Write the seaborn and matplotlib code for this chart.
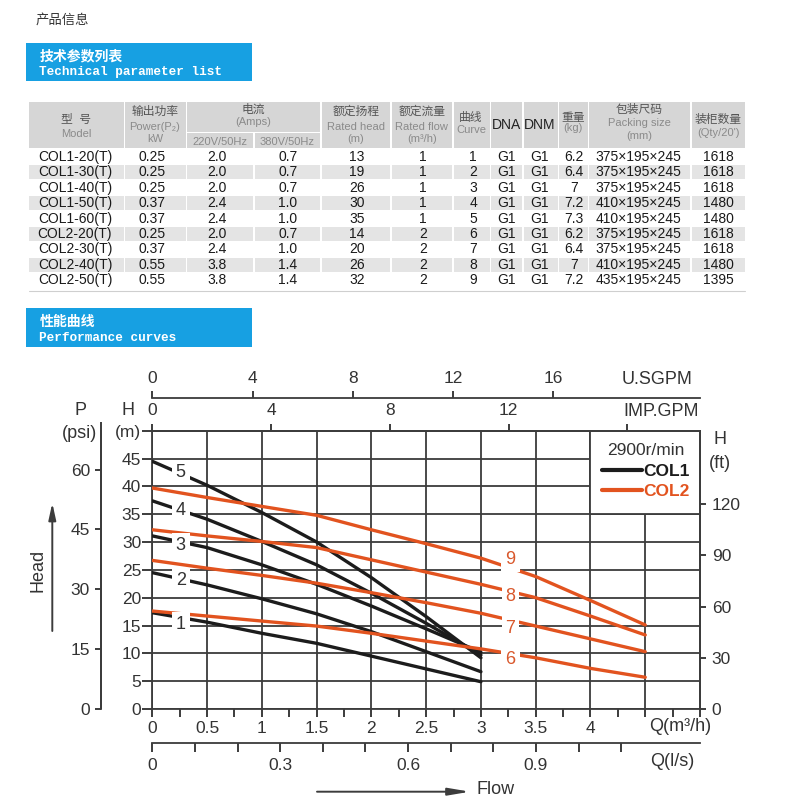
import numpy as np
import pandas as pd
import matplotlib
matplotlib.use("Agg")
import matplotlib.pyplot as plt
from matplotlib.patches import Rectangle
from matplotlib.lines import Line2D
import seaborn as sns

sns.set_style("white")
plt.rcParams["font.family"] = ["Liberation Sans", "Noto Sans CJK SC", "DejaVu Sans"]

# ---- technical parameter table ----
models = ["COL1-20(T)", "COL1-30(T)", "COL1-40(T)", "COL1-50(T)", "COL1-60(T)",
          "COL2-20(T)", "COL2-30(T)", "COL2-40(T)", "COL2-50(T)"]
power_kw = ["0.25", "0.25", "0.25", "0.37", "0.37", "0.25", "0.37", "0.55", "0.55"]
amps_220 = ["2.0", "2.0", "2.0", "2.4", "2.4", "2.0", "2.4", "3.8", "3.8"]
amps_380 = ["0.7", "0.7", "0.7", "1.0", "1.0", "0.7", "1.0", "1.4", "1.4"]
rated_head = ["13", "19", "26", "30", "35", "14", "20", "26", "32"]
rated_flow = ["1", "1", "1", "1", "1", "2", "2", "2", "2"]
curve_no = ["1", "2", "3", "4", "5", "6", "7", "8", "9"]
dna = ["G1"] * 9
dnm = ["G1"] * 9
weight_kg = ["6.2", "6.4", "7", "7.2", "7.3", "6.2", "6.4", "7", "7.2"]
packing = ["375×195×245", "375×195×245", "375×195×245", "410×195×245", "410×195×245",
           "375×195×245", "375×195×245", "410×195×245", "435×195×245"]
qty_20ft = ["1618", "1618", "1618", "1480", "1480", "1618", "1618", "1480", "1395"]

# ---- performance curves (Q in m3/h, H in m) ----
q_col1 = [0, 0.5, 1, 1.5, 2, 2.5, 3]
h_curve1 = [17.3, 15.6, 13.6, 11.8, 9.5, 7.2, 4.9]
h_curve2 = [24.5, 22.3, 19.8, 17.1, 13.9, 10.3, 6.7]
h_curve3 = [31.1, 29.0, 25.9, 22.4, 18.5, 14.4, 10.2]
h_curve4 = [37.4, 34.1, 30.1, 25.9, 20.8, 15.4, 9.7]
h_curve5 = [44.5, 40.2, 35.3, 30.0, 23.6, 16.6, 9.2]
q_col2 = [0, 0.5, 1, 1.5, 2, 2.5, 3, 3.5, 4, 4.5]
h_curve6 = [17.6, 16.7, 15.8, 14.9, 13.6, 12.2, 10.8, 9.2, 7.3, 5.7]
h_curve7 = [26.7, 25.3, 24.0, 22.6, 20.9, 19.1, 17.2, 14.9, 12.6, 10.3]
h_curve8 = [32.2, 31.1, 30.1, 29.0, 26.8, 24.6, 22.4, 20.0, 16.7, 13.3]
h_curve9 = [39.7, 38.0, 36.4, 34.8, 32.2, 29.7, 27.1, 23.8, 19.5, 15.1]

# unit scales as printed on the chart
PSI_PER_M = 1.395
FT_PER_M = 3.26
IMP_PER_M3H = 3.69
US_PER_M3H = 4.37
LPS_PER_M3H = 0.257

BLUE = "#17a0e2"
BLACK = "#1c1c1c"
ORANGE = "#e2531f"
LABEL_OR = "#d9582c"
GRID = "#3c3c3c"
TXT = "#333333"

W = H = 800


def rect(l, t, r, b):
    return [l / W, 1 - b / H, (r - l) / W, (b - t) / H]


fig = plt.figure(figsize=(8, 8), dpi=100)
page = fig.add_axes([0, 0, 1, 1], zorder=0)
page.set_xlim(0, W)
page.set_ylim(H, 0)
page.axis("off")

# heading + banners
page.text(36, 20.7, "产品信息", fontsize=9.6, color=TXT, va="center")
for top, cn, en in [(42.7, "技术参数列表", "Technical parameter list"),
                    (308.3, "性能曲线", "Performance curves")]:
    page.add_patch(Rectangle((26, top), 226.3, 38.5, fc=BLUE, ec="none"))
    page.text(39.3, top + 13.3, cn, color="white", fontsize=10, fontweight="bold", va="center")
    page.text(39.3, top + 29.6, en, color="white", fontsize=9.2, fontweight="bold",
              family="Liberation Mono", va="center")

# ---- table ----
edges = [29, 125, 187, 254.5, 321.5, 391.5, 453.5, 491, 523.5, 559, 589, 691.5, 746.5]
HEAD_BG = "#d6d6d6"
ROW_BG = "#e4e4e4"
head_top, head_bot = 102.3, 148.3
for i in range(len(edges) - 1):
    l, r = edges[i], edges[i + 1] - 1.5
    if i in (2, 3):
        page.add_patch(Rectangle((l, 133.2), r - l, head_bot - 133.2, fc=HEAD_BG, ec="none"))
    else:
        page.add_patch(Rectangle((l, head_top), r - l, head_bot - head_top, fc=HEAD_BG, ec="none"))
page.add_patch(Rectangle((187, head_top), 320 - 187, 131.7 - head_top, fc=HEAD_BG, ec="none"))

CN = dict(fontsize=8.5, color="#555555", ha="center", va="center")
EN = dict(fontsize=8, color="#8a8a8a", ha="center", va="center")
page.text(76, 120, "型  号", **CN)
page.text(76, 134.3, "Model", **EN)
page.text(155, 111.7, "输出功率", **CN)
page.text(155, 126.7, "Power(P₂)", **EN)
page.text(155, 139.3, "kW", **EN)
page.text(253.5, 110, "电流", **CN)
page.text(253.5, 122.3, "(Amps)", **EN)
page.text(220, 141.7, "220V/50Hz", **EN)
page.text(287.3, 141.7, "380V/50Hz", **EN)
page.text(355.7, 111.7, "额定扬程", **CN)
page.text(355.7, 126.7, "Rated head", **EN)
page.text(355.7, 139.3, "(m)", **EN)
page.text(421.7, 111.7, "额定流量", **CN)
page.text(421.7, 126.7, "Rated flow", **EN)
page.text(421.7, 139.3, "(m³/h)", **EN)
page.text(471, 118.3, "曲线", **CN)
page.text(471, 130, "Curve", **EN)
page.text(506.2, 125, "DNA", fontsize=10, color="#222222", ha="center", va="center")
page.text(540, 125, "DNM", fontsize=10, color="#222222", ha="center", va="center")
page.text(573, 118.3, "重量", **CN)
page.text(573, 128.3, "(kg)", **EN)
page.text(639, 110, "包装尺码", **CN)
page.text(639, 123.3, "Packing size", **EN)
page.text(639, 135.7, "(mm)", **EN)
page.text(718.5, 120, "装柜数量", **CN)
page.text(718.5, 133.3, "(Qty/20')", **EN)

columns = [models, power_kw, amps_220, amps_380, rated_head, rated_flow, curve_no,
           dna, dnm, weight_kg, packing, qty_20ft]
data_x = [75, 152, 217, 288, 357, 423, 473, 507, 539.5, 574, 638.5, 718.5]
for i in range(len(models)):
    yc = 157 + i * 15.4
    if i % 2 == 1:
        for k in range(len(edges) - 1):
            page.add_patch(Rectangle((edges[k], yc - 7.1), edges[k + 1] - 1.5 - edges[k], 14.2,
                                     fc=ROW_BG, ec="none"))
    for col, x in zip(columns, data_x):
        page.text(x, yc, col[i], fontsize=10, color="#1a1a1a", ha="center", va="center")
page.plot([29, 745], [290.5, 290.5], color="#cfcfcf", lw=0.8)

# ---- performance chart ----
ax = fig.add_axes(rect(152.3, 430.7, 700, 709), zorder=2)
curve_sets = [("COL1", 1, q_col1, h_curve1), ("COL1", 2, q_col1, h_curve2),
              ("COL1", 3, q_col1, h_curve3), ("COL1", 4, q_col1, h_curve4),
              ("COL1", 5, q_col1, h_curve5), ("COL2", 6, q_col2, h_curve6),
              ("COL2", 7, q_col2, h_curve7), ("COL2", 8, q_col2, h_curve8),
              ("COL2", 9, q_col2, h_curve9)]
df = pd.concat([pd.DataFrame({"Q": q, "H": h, "curve": n, "series": s})
                for s, n, q, h in curve_sets], ignore_index=True)
sns.lineplot(data=df, x="Q", y="H", hue="series", units="curve", estimator=None, sort=False,
             palette={"COL1": BLACK, "COL2": ORANGE}, lw=2.4, ax=ax, zorder=3)
ax.set_xlabel("")
ax.set_ylabel("")
ax.set_xlim(0, 5)
ax.set_ylim(0, 50)
ax.set_xticks(np.arange(0, 5.01, 0.5))
ax.set_xticks(np.arange(0, 5.01, 0.25), minor=True)
ax.set_xticklabels(["0", "0.5", "1", "1.5", "2", "2.5", "3", "3.5", "4", "", ""])
ax.set_yticks(np.arange(0, 50.1, 5))
ax.set_yticklabels(["0", "5", "10", "15", "20", "25", "30", "35", "40", "45", "(m)"])
ax.grid(True, which="major", color=GRID, lw=1.3)
ax.tick_params(axis="x", which="both", bottom=True, length=6, width=1.4, color=GRID,
               pad=2.5, labelsize=12.5, labelcolor=TXT)
ax.tick_params(axis="y", which="both", left=True, length=7, width=1.4, color=GRID,
               pad=1, labelsize=12.5, labelcolor=TXT)
for sp in ax.spines.values():
    sp.set(color=GRID, lw=1.3)

# legend box area without grid
ax.add_patch(Rectangle((4, 35), 1, 15, fc="white", ec=GRID, lw=1.3, zorder=1))
handles = ax.get_legend().legend_handles
ax.get_legend().remove()
for hd in handles:
    hd.set_linewidth(3)
lg = ax.legend(handles, ["COL1", "COL2"], title="2900r/min", loc="upper left",
               bbox_to_anchor=(602 / W, 1 - 443 / H), bbox_transform=fig.transFigure,
               frameon=False, fontsize=12.5, title_fontsize=12.5, handlelength=2.3,
               handletextpad=0.1, labelspacing=0.32, borderpad=0, borderaxespad=0)
lg.get_title().set_color(TXT)
for t, c in zip(lg.get_texts(), [BLACK, ORANGE]):
    t.set_color(c)
    t.set_fontweight("bold")

# curve number labels
label_q = [0.26, 0.26, 0.26, 0.26, 0.26, 3.27, 3.27, 3.27, 3.27]
label_h = [15.2, 23.0, 29.3, 35.6, 42.5, 8.85, 14.5, 20.2, 26.8]
for n, (lq, lh) in enumerate(zip(label_q, label_h), start=1):
    ax.text(lq, lh, str(n), fontsize=13, ha="center", va="center",
            color=TXT if n <= 5 else LABEL_OR, zorder=5,
            bbox=dict(boxstyle="square,pad=0.22", fc="white", ec="none"))

# other unit scales
sec_imp = ax.secondary_xaxis("top", functions=(lambda q: q * IMP_PER_M3H, lambda g: g / IMP_PER_M3H))
sec_imp.set_xticks([0, 4, 8, 12, 16])
sec_imp.set_xticklabels(["0", "4", "8", "12", ""])
sec_us = ax.secondary_xaxis(1 + 32.4 / 278.3, functions=(lambda q: q * US_PER_M3H, lambda g: g / US_PER_M3H))
sec_us.set_xticks([0, 4, 8, 12, 16])
sec_lps = ax.secondary_xaxis(-34.3 / 278.3, functions=(lambda q: q * LPS_PER_M3H, lambda l: l / LPS_PER_M3H))
sec_lps.set_xticks([0, 0.3, 0.6, 0.9])
sec_lps.set_xticklabels(["0", "0.3", "0.6", "0.9"])
sec_lps.set_xticks([0.1, 0.2, 0.4, 0.5, 0.7, 0.8, 1.0, 1.1], minor=True)
sec_ft = ax.secondary_yaxis("right", functions=(lambda h: h * FT_PER_M, lambda f: f / FT_PER_M))
sec_ft.set_yticks([0, 30, 60, 90, 120])
sec_p = ax.secondary_yaxis((101 - 152.3) / 547.7, functions=(lambda h: h * PSI_PER_M, lambda p: p / PSI_PER_M))
sec_p.set_yticks([0, 15, 30, 45, 60])
for sec, lx, pd_ in [(sec_imp, 5, 4), (sec_us, 5, 4), (sec_lps, 6.5, 4), (sec_ft, 4.5, 4),
                     (sec_p, 4.5, 3.5)]:
    sec.tick_params(which="both", direction="out", length=lx, width=1.4, color=GRID, pad=pd_,
                    labelsize=12.5, labelcolor=TXT)
    for sp in sec.spines.values():
        sp.set(color=GRID, lw=1.3)

# psi spine drawn on top at figure level (runs a little above the grid)
fig.add_artist(Line2D([101 / W, 101 / W], [1 - 421.7 / H, 1 - 709 / H], transform=fig.transFigure,
                      color=GRID, lw=1.4, solid_capstyle="butt", zorder=10))

# axis titles and arrows
TK = dict(fontsize=13, color=TXT, ha="center", va="center")
page.text(80, 410.7, "P", **TK)
page.text(79.5, 433.3, "(psi)", **TK)
page.text(128.3, 410.7, "H", **TK)
page.text(720, 440, "H", **TK)
page.text(720, 463.3, "(ft)", **TK)
page.text(656.7, 380, "U.SGPM", **TK)
page.text(660.8, 411.7, "IMP.GPM", **TK)
page.text(680.5, 726.7, "Q(m³/h)", **TK)
page.text(672.5, 761.7, "Q(l/s)", **TK)
page.text(476.7, 790, "Flow", fontsize=13, color=TXT, ha="left", va="center")
page.text(38, 570, "Head", rotation=90, **TK)
page.annotate("", xy=(52.3, 503), xytext=(52.3, 631),
              arrowprops=dict(arrowstyle="-|>,head_length=1.0,head_width=0.22", color=GRID,
                              lw=1.4, shrinkA=0, shrinkB=0, mutation_scale=10))
page.annotate("", xy=(470, 791.7), xytext=(317, 791.7),
              arrowprops=dict(arrowstyle="-|>,head_length=1.3,head_width=0.22", color=GRID,
                              lw=1.4, shrinkA=0, shrinkB=0, mutation_scale=10))

fig.savefig("out.png", dpi=100)
